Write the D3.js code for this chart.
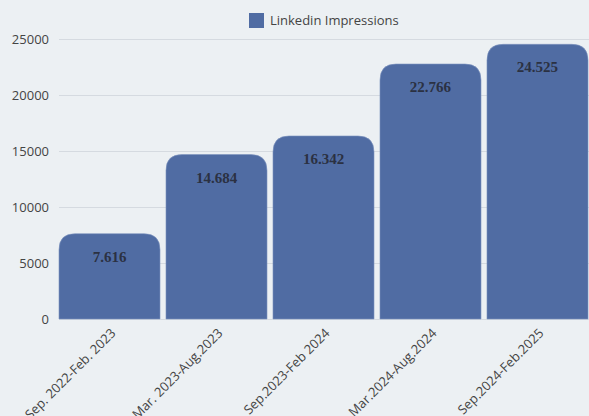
<!DOCTYPE html>
<html>
<head>
<meta charset="utf-8">
<script src="https://cdn.jsdelivr.net/npm/d3@7"></script>
<style>
  html, body { margin: 0; padding: 0; background: #ecf0f3; }
  svg { display: block; }
</style>
</head>
<body>
<div id="chart"></div>
<script>
// Data
const periods = ['Sep. 2022-Feb. 2023', 'Mar. 2023-Aug.2023', 'Sep.2023-Feb 2024', 'Mar.2024-Aug.2024', 'Sep.2024-Feb.2025']
const impressions = [7616, 14684, 16342, 22766, 24525]
const yTicks = [0, 5000, 10000, 15000, 20000, 25000]
const seriesName = 'Linkedin Impressions'

// Const variables
const width = 589
const height = 416
const margin = { top: 39, right: 1, bottom: 97, left: 59 }
const barColor = '#506ca3'
const radius = 16

const svg = d3.select('#chart')
  .append('svg')
    .attr('width', width)
    .attr('height', height)
    .style('font-family', '"Open Sans", sans-serif')

svg.append('rect')
    .attr('width', width)
    .attr('height', height)
    .attr('fill', '#ecf0f3')

const x = d3.scaleBand()
  .domain(periods)
  .range([margin.left, width - margin.right])
  .paddingInner(0.056)
  .paddingOuter(0)

const y = d3.scaleLinear()
  .domain([0, 25000])
  .range([height - margin.bottom, margin.top])

// Grid lines
svg.append('g')
  .selectAll('line')
  .data(yTicks)
  .enter()
  .append('line')
    .attr('x1', margin.left)
    .attr('x2', width)
    .attr('y1', d => y(d) + 0.5)
    .attr('y2', d => y(d) + 0.5)
    .attr('stroke', '#d5dae0')
    .attr('stroke-width', 1)

// Y axis labels
const yAxis = d3.axisLeft(y).tickValues(yTicks).tickSize(0).tickPadding(10).tickFormat(d3.format('d'))
const yg = svg.append('g')
    .attr('transform', `translate(${margin.left},0)`)
    .call(yAxis)
yg.select('.domain').remove()
yg.selectAll('text')
    .attr('font-size', 13)
    .attr('fill', '#444')
    .attr('font-family', '"Open Sans", sans-serif')

// Bars with rounded top corners
const barPath = d => {
  const x0 = x(d.period), w = x.bandwidth()
  const y0 = y(d.value), y1 = y(0)
  const r = Math.min(radius, w / 2, y1 - y0)
  return `M${x0},${y1}V${y0 + r}Q${x0},${y0} ${x0 + r},${y0}H${x0 + w - r}Q${x0 + w},${y0} ${x0 + w},${y0 + r}V${y1}Z`
}
const rows = periods.map((p, i) => ({ period: p, value: impressions[i] }))

svg.append('g')
  .selectAll('path')
  .data(rows)
  .enter()
  .append('path')
    .attr('d', barPath)
    .attr('fill', barColor)
    .attr('stroke', '#7d93bf')
    .attr('stroke-width', 0.6)

// Value labels
const fmt = v => d3.format(',')(v).replace(/,/g, '.')
svg.append('g')
  .selectAll('text')
  .data(rows)
  .enter()
  .append('text')
    .attr('x', d => x(d.period) + x.bandwidth() / 2)
    .attr('y', d => y(d.value) + 28)
    .attr('text-anchor', 'middle')
    .attr('font-family', '"Liberation Serif", serif')
    .attr('font-weight', 'bold')
    .attr('font-size', 15)
    .attr('fill', '#2b3142')
    .text(d => fmt(d.value))

// X axis labels
svg.append('g')
  .selectAll('text')
  .data(periods)
  .enter()
  .append('text')
    .attr('transform', d => `translate(${x(d) + x.bandwidth() / 2 + 7},${y(0) + 15}) rotate(-45)`)
    .attr('text-anchor', 'end')
    .attr('font-size', 13)
    .attr('fill', '#444')
    .text(d => d)

// Legend
const legend = svg.append('g').attr('transform', 'translate(249,13)')
legend.append('rect')
    .attr('width', 15)
    .attr('height', 15)
    .attr('fill', barColor)
legend.append('text')
    .attr('x', 21)
    .attr('y', 12)
    .attr('font-size', 13)
    .attr('fill', '#444')
    .text(seriesName)
</script>
</body>
</html>
